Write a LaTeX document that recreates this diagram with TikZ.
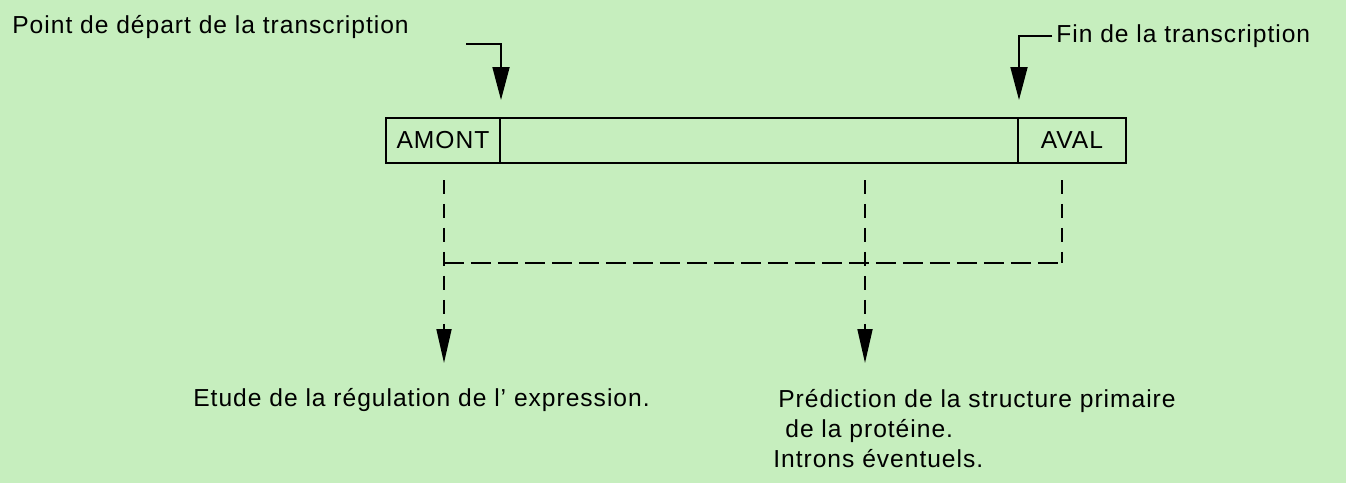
\documentclass[tikz,border=0pt]{standalone}
\usepackage{fontspec}
\setmainfont{Liberation Sans}[LetterSpace=4]
\usetikzlibrary{arrows.meta, positioning}
\definecolor{paper}{RGB}{198,238,190}

\begin{document}
\begin{tikzpicture}[x=0.02cm, y=-0.02cm,
		every node/.style={font=\fontsize{14}{17}\selectfont, inner sep=0pt},
		segment/.style={draw, line width=1.2pt, minimum height=0.9cm, outer sep=0pt},
		startarrow/.style={-{Triangle[length=0.66cm, width=0.34cm]}, line width=1pt},
		vdash/.style={line width=1pt, dash pattern=on 0.28cm off 0.2cm},
		hdash/.style={line width=1pt, dash pattern=on 0.4cm off 0.14cm},
		tipped/.style={-{Triangle[length=0.68cm, width=0.3cm]}}
		]
		
		% --- Background ---
		\fill[paper] (0,0) rectangle (1346,483);
		\useasboundingbox (0,0) rectangle (1346,483);
		
		% --- Gene box ---
		\node[segment, minimum width=2.28cm] (amont) at (443,140.5) {AMONT};
		\node[segment, minimum width=10.36cm, right=0pt of amont] (coding) {};
		\node[segment, minimum width=2.16cm, right=0pt of coding] (aval) {AVAL};
		
		% --- Top labels ---
		\node[anchor=west] (debut) at (12,27) {Point de départ de la transcription};
		\node[anchor=west] (fin) at (1056,36) {Fin de la transcription};
		
		\coordinate (debutA) at (466,44);
		\coordinate (debutB) at (501,100);
		\coordinate (finB) at (1019,100);
		
		\draw[startarrow] (debutA) -| (debutB);
		\draw[startarrow] ([xshift=-2pt]fin.west) -| (finB);
		
		% --- Dashed connections ---
		\coordinate (dA) at (444,180);
		\coordinate (dB) at (865,180);
		\coordinate (dC) at (1062,180);
		\coordinate (hA) at (444,263);
		\coordinate (hC) at (1062,263);
		\coordinate (tA) at (444,363);
		\coordinate (tB) at (865,363);
		
		\draw[vdash] (dC) -- (hC);
		\draw[hdash] (hA) -- (hC);
		\draw[vdash, tipped] (dA) -- (tA);
		\draw[vdash, tipped] (dB) -- (tB);
		
		% --- Bottom labels ---
		\node[anchor=west] (etude) at (193,400) {Etude de la régulation de l' expression.};
		\node[anchor=north west, align=left] (prediction) at (773,389)
		{\hspace{0.1cm}Prédiction de la structure primaire\\
			\hspace{0.24cm}de la protéine.\\
			Introns éventuels.};
		
	\end{tikzpicture}
\end{document}
